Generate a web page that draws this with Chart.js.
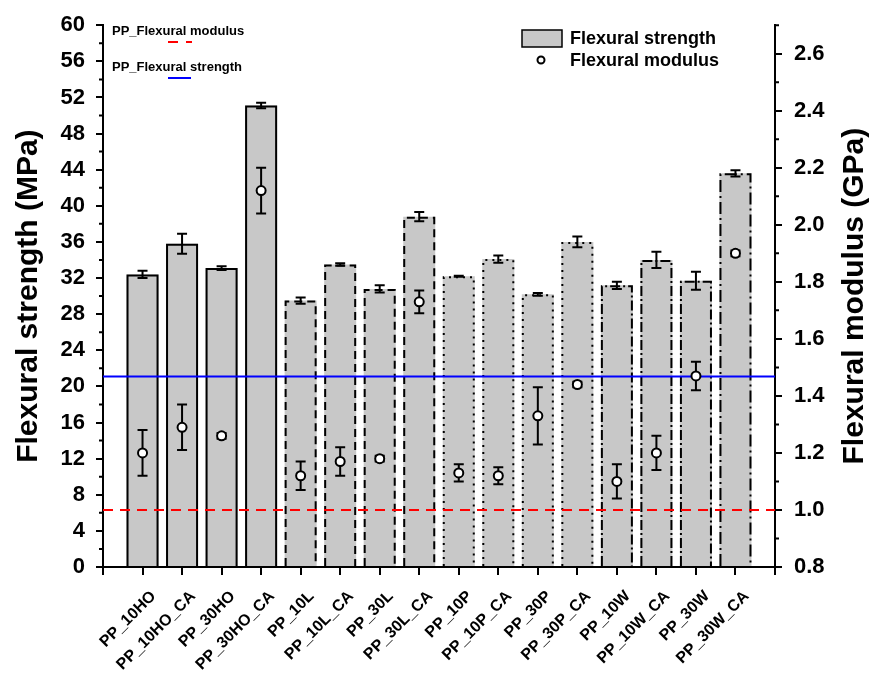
<!DOCTYPE html>
<html>
<head>
<meta charset="utf-8">
<script src="https://cdn.jsdelivr.net/npm/chart.js@4.4.0/dist/chart.umd.min.js"></script>
<style>
  html, body { margin: 0; padding: 0; background: #fff; }
</style>
</head>
<body>
<canvas id="chart" width="872" height="679"></canvas>
<script>
// values
const categories = ['PP_10HO', 'PP_10HO_CA', 'PP_30HO', 'PP_30HO_CA', 'PP_10L', 'PP_10L_CA', 'PP_30L', 'PP_30L_CA',
  'PP_10P', 'PP_10P_CA', 'PP_30P', 'PP_30P_CA', 'PP_10W', 'PP_10W_CA', 'PP_30W', 'PP_30W_CA'];
const strength = [32.4, 35.8, 33.1, 51.1, 29.5, 33.5, 30.8, 38.8, 32.2, 34.1, 30.2, 36.0, 31.2, 34.0, 31.7, 43.6];
const strengthErr = [0.4, 1.1, 0.2, 0.3, 0.35, 0.15, 0.4, 0.5, 0.05, 0.4, 0.15, 0.6, 0.4, 0.9, 1.0, 0.35];
const modulus = [1.20, 1.29, 1.26, 2.12, 1.12, 1.17, 1.18, 1.73, 1.13, 1.12, 1.33, 1.44, 1.10, 1.20, 1.47, 1.90];
const modulusErr = [0.08, 0.08, 0.01, 0.08, 0.05, 0.05, 0.01, 0.04, 0.03, 0.03, 0.10, 0.01, 0.06, 0.06, 0.05, 0.01];
const ppStrength = 21.1;   // MPa, neat PP
const ppModulus = 1.0;     // GPa, neat PP
const strengthAxis = { min: 0, max: 60, step: 4 };
const modulusAxis = { min: 0.8, max: 2.7, step: 0.2 };

// outline style per bar (HO solid, L dashed, P dotted, W dash-dot)
const outlineDash = [
  [], [], [], [],
  [8, 5], [8, 5], [8, 5], [8, 5],
  [2, 5], [2, 5], [2, 5], [2, 5],
  [10, 3, 2, 3], [10, 3, 2, 3], [10, 3, 2, 3], [12, 4, 2, 4]
];

const FONT = "'Liberation Sans', Arial, sans-serif";
const BAR_GRAY = '#c8c8c8';

// one empty slot at each end so the bars sit a full step in from the axes
const labels = ['', ...categories, ''];
const pad = arr => [null, ...arr, null];
const flat = v => labels.map(() => v);

function drawErr(ctx, x, yTop, yBot, cap) {
  ctx.beginPath();
  ctx.moveTo(x, yTop); ctx.lineTo(x, yBot);
  ctx.moveTo(x - cap, yTop); ctx.lineTo(x + cap, yTop);
  ctx.moveTo(x - cap, yBot); ctx.lineTo(x + cap, yBot);
  ctx.stroke();
}

const overlay = {
  id: 'overlay',
  afterDatasetDraw(chart, args) {
    if (args.index !== 0) return;
    const ctx = chart.ctx;
    const ys = chart.scales.y;
    const bars = chart.getDatasetMeta(0).data;
    ctx.save();
    ctx.strokeStyle = '#000';
    ctx.lineWidth = 2;
    categories.forEach((c, i) => {
      const b = bars[i + 1].getProps(['x', 'y', 'base', 'width'], true);
      const l = b.x - b.width / 2 + 1, r = b.x + b.width / 2 - 1;
      ctx.setLineDash(outlineDash[i]);
      ctx.beginPath();
      ctx.moveTo(l, b.base);
      ctx.lineTo(l, b.y + 1);
      ctx.lineTo(r, b.y + 1);
      ctx.lineTo(r, b.base);
      ctx.stroke();
    });
    ctx.setLineDash([]);
    categories.forEach((c, i) => {
      const x = bars[i + 1].x;
      drawErr(ctx, x, ys.getPixelForValue(strength[i] + strengthErr[i]),
        ys.getPixelForValue(strength[i] - strengthErr[i]), 5);
    });
    ctx.restore();
  },
  beforeDatasetDraw(chart, args) {
    if (args.index !== 3) return;
    const ctx = chart.ctx;
    const ys = chart.scales.y1;
    const pts = chart.getDatasetMeta(3).data;
    ctx.save();
    ctx.strokeStyle = '#000';
    ctx.lineWidth = 2;
    categories.forEach((c, i) => {
      const x = pts[i + 1].x;
      drawErr(ctx, x, ys.getPixelForValue(modulus[i] + modulusErr[i]),
        ys.getPixelForValue(modulus[i] - modulusErr[i]), 5);
    });
    ctx.restore();
  },
  afterDraw(chart) {
    const ctx = chart.ctx;
    const area = chart.chartArea;
    const yl = chart.scales.y, yr = chart.scales.y1;
    ctx.save();
    ctx.strokeStyle = '#000';
    ctx.lineWidth = 2;
    // minor ticks
    ctx.beginPath();
    for (let v = strengthAxis.min + strengthAxis.step / 2; v < strengthAxis.max; v += strengthAxis.step) {
      const y = yl.getPixelForValue(v);
      ctx.moveTo(area.left, y); ctx.lineTo(area.left - 4, y);
    }
    for (let k = 0; k * modulusAxis.step / 2 + modulusAxis.min < modulusAxis.max + 1e-6; k++) {
      if (k % 2 === 0) continue;
      const y = yr.getPixelForValue(modulusAxis.min + k * modulusAxis.step / 2);
      ctx.moveTo(area.right, y); ctx.lineTo(area.right + 4, y);
    }
    ctx.stroke();

    // right axis title, reading bottom to top like the left one
    ctx.save();
    ctx.fillStyle = '#000';
    ctx.font = 'bold 30px ' + FONT;
    ctx.textAlign = 'center';
    ctx.textBaseline = 'middle';
    ctx.translate(855, (area.top + area.bottom) / 2);
    ctx.rotate(-Math.PI / 2);
    ctx.fillText('Flexural modulus (GPa)', 0, 0);
    ctx.restore();

    // legend, top right
    ctx.fillStyle = BAR_GRAY;
    ctx.fillRect(522, 30, 40, 17);
    ctx.lineWidth = 1.5;
    ctx.strokeRect(522, 30, 40, 17);
    ctx.beginPath();
    ctx.arc(541, 60, 3.5, 0, Math.PI * 2);
    ctx.fillStyle = '#fff';
    ctx.fill();
    ctx.lineWidth = 2;
    ctx.stroke();
    ctx.fillStyle = '#000';
    ctx.font = 'bold 18px ' + FONT;
    ctx.textBaseline = 'middle';
    ctx.textAlign = 'left';
    ctx.fillText('Flexural strength', 570, 39);
    ctx.fillText('Flexural modulus', 570, 61);

    // legend, top left
    ctx.font = 'bold 13px ' + FONT;
    ctx.fillText('PP_Flexural modulus', 112, 31);
    ctx.fillText('PP_Flexural strength', 112, 67);
    ctx.lineWidth = 2;
    ctx.strokeStyle = '#ff0000';
    ctx.setLineDash([10, 8]);
    ctx.beginPath(); ctx.moveTo(168, 42); ctx.lineTo(192, 42); ctx.stroke();
    ctx.setLineDash([]);
    ctx.strokeStyle = '#0000ff';
    ctx.beginPath(); ctx.moveTo(168, 78); ctx.lineTo(191, 78); ctx.stroke();
    ctx.restore();
  }
};

const tickFont = { family: FONT, size: 22, weight: 'bold' };

new Chart(document.getElementById('chart'), {
  type: 'bar',
  data: {
    labels: labels,
    datasets: [
      {
        label: 'Flexural strength',
        data: pad(strength),
        yAxisID: 'y',
        backgroundColor: BAR_GRAY,
        borderWidth: 0,
        categoryPercentage: 1,
        barPercentage: 0.81,
        order: 3
      },
      {
        type: 'line',
        label: 'PP_Flexural strength',
        data: flat(ppStrength),
        yAxisID: 'y',
        borderColor: '#0000ff',
        borderWidth: 2,
        pointRadius: 0,
        order: 2
      },
      {
        type: 'line',
        label: 'PP_Flexural modulus',
        data: flat(ppModulus),
        yAxisID: 'y1',
        borderColor: '#ff0000',
        borderWidth: 2,
        borderDash: [10, 7],
        pointRadius: 0,
        order: 2
      },
      {
        type: 'line',
        label: 'Flexural modulus',
        data: pad(modulus),
        yAxisID: 'y1',
        showLine: false,
        pointRadius: 4.5,
        pointBorderWidth: 2,
        pointBackgroundColor: '#fff',
        pointBorderColor: '#000',
        order: 0
      }
    ]
  },
  options: {
    responsive: false,
    animation: false,
    layout: { padding: { top: 20, left: 0, right: 0, bottom: 0 } },
    plugins: { legend: { display: false }, tooltip: { enabled: false } },
    scales: {
      x: {
        type: 'category',
        offset: false,
        grid: { offset: false, drawOnChartArea: false, drawTicks: true, tickLength: 8, color: '#000', lineWidth: 2 },
        border: { display: true, color: '#000', width: 2 },
        ticks: {
          autoSkip: false,
          minRotation: 45,
          maxRotation: 45,
          padding: 12,
          labelOffset: 11,
          color: '#000',
          font: { family: FONT, size: 16, weight: 'bold' }
        },
        afterFit: s => { s.height = 112; }
      },
      y: {
        position: 'left',
        min: strengthAxis.min,
        max: strengthAxis.max,
        grid: { drawOnChartArea: false, drawTicks: true, tickLength: 7, color: '#000', lineWidth: 2 },
        border: { display: true, color: '#000', width: 2 },
        ticks: { stepSize: strengthAxis.step, padding: 11, color: '#000', font: tickFont },
        title: {
          display: true,
          text: 'Flexural strength (MPa)',
          color: '#000',
          font: { family: FONT, size: 30, weight: 'bold' },
          padding: { top: 11, bottom: 0 }
        },
        afterFit: s => { s.width = 103; }
      },
      y1: {
        position: 'right',
        min: modulusAxis.min,
        max: modulusAxis.max,
        grid: { drawOnChartArea: false, drawTicks: true, tickLength: 7, color: '#000', lineWidth: 2 },
        border: { display: true, color: '#000', width: 2 },
        ticks: {
          stepSize: modulusAxis.step,
          includeBounds: false,
          padding: 12,
          color: '#000',
          font: tickFont,
          callback: v => Number(v).toFixed(1)
        },
        afterFit: s => { s.width = 97; }
      }
    }
  },
  plugins: [overlay]
});
</script>
</body>
</html>
